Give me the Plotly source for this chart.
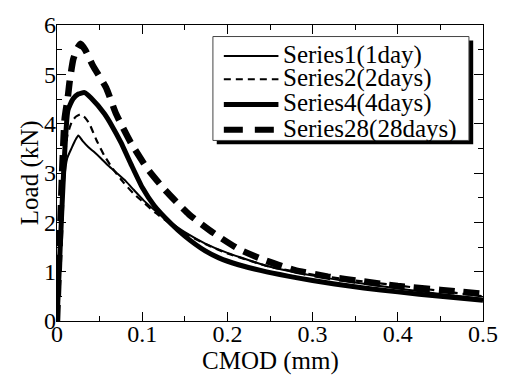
import plotly.graph_objects as go

# ---- data ----
x_s1 = [0, 0.004, 0.008, 0.012, 0.017, 0.021, 0.025, 0.03, 0.037, 0.044, 0.052, 0.06, 0.07, 0.081, 0.09,
        0.102, 0.115, 0.13, 0.15, 0.174, 0.2, 0.25, 0.3, 0.35, 0.4, 0.45, 0.5]
y_s1 = [0, 1.5, 2.8, 3.3, 3.5, 3.65, 3.76, 3.65, 3.52, 3.42, 3.29, 3.15, 3.0, 2.83, 2.66,
        2.44, 2.24, 2.04, 1.8, 1.57, 1.38, 1.1, 0.92, 0.78, 0.66, 0.55, 0.45]

x_s2 = [0, 0.004, 0.008, 0.012, 0.017, 0.022, 0.0276, 0.033, 0.038, 0.046, 0.0556, 0.0653, 0.077, 0.09,
        0.102, 0.115, 0.13, 0.15, 0.174, 0.2, 0.25, 0.3, 0.35, 0.4, 0.45, 0.5]
y_s2 = [0, 1.55, 3.0, 3.75, 4.02, 4.14, 4.19, 4.12, 4.0, 3.68, 3.35, 3.09, 2.83, 2.58,
        2.4, 2.2, 2.01, 1.78, 1.56, 1.37, 1.1, 0.94, 0.82, 0.72, 0.61, 0.5]

x_s4 = [0, 0.004, 0.008, 0.0128, 0.0187, 0.025, 0.0323, 0.04, 0.0557, 0.065, 0.075, 0.0868, 0.1003, 0.114,
        0.1334, 0.15, 0.174, 0.19, 0.213, 0.24, 0.271, 0.3, 0.326, 0.36, 0.4, 0.45, 0.5]
y_s4 = [0, 1.6, 3.1, 4.27, 4.5, 4.6, 4.63, 4.52, 4.2, 3.94, 3.62, 3.18, 2.7, 2.34,
        1.98, 1.72, 1.42, 1.28, 1.14, 1.02, 0.91, 0.82, 0.75, 0.67, 0.59, 0.5, 0.42]

x_s28 = [0, 0.003, 0.006, 0.009, 0.0128, 0.0148, 0.019, 0.023, 0.0275, 0.033, 0.042, 0.0576, 0.0693,
         0.0868, 0.106, 0.1276, 0.155, 0.184, 0.213, 0.244, 0.279, 0.318, 0.36, 0.4, 0.45, 0.5]
y_s28 = [0, 1.5, 3.0, 4.1, 4.55, 4.85, 5.3, 5.5, 5.62, 5.5, 5.18, 4.73, 4.2,
         3.61, 3.09, 2.64, 2.16, 1.78, 1.46, 1.23, 1.03, 0.9, 0.8, 0.71, 0.63, 0.55]

names = ["Series1(1day)", "Series2(2days)", "Series4(4days)", "Series28(28days)"]

x_ticks = [0, 0.1, 0.2, 0.3, 0.4, 0.5]
x_labels = ["0", "0.1", "0.2", "0.3", "0.4", "0.5"]
y_ticks = [0, 1, 2, 3, 4, 5, 6]
y_labels = ["0", "1", "2", "3", "4", "5", "6"]

FONT = "Liberation Serif, Times New Roman, serif"

styles = [
    dict(width=2, dash="solid"),
    dict(width=2.2, dash="7px,5px"),
    dict(width=5, dash="solid"),
    dict(width=6.5, dash="16px,9px"),
]

fig = go.Figure()
for xs, ys, nm, st in zip([x_s1, x_s2, x_s4, x_s28], [y_s1, y_s2, y_s4, y_s28], names, styles):
    fig.add_trace(go.Scatter(x=xs, y=ys, mode="lines", name=nm, showlegend=False,
                             line=dict(color="black", width=st["width"], dash=st["dash"],
                                       shape="spline", smoothing=0.5)))

axis_common = dict(showline=True, linecolor="black", linewidth=1.2, mirror="allticks",
                   ticks="inside", tickcolor="black", tickwidth=1.2, showgrid=False,
                   zeroline=False, tickfont=dict(family=FONT, size=24, color="black"))

fig.update_xaxes(range=[0, 0.5], tickvals=x_ticks, ticktext=x_labels, ticklen=9,
                 ticklabelstandoff=-9,
                 minor=dict(ticks="inside", dtick=0.05, ticklen=5, tickcolor="black", tickwidth=1.2),
                 **axis_common)
fig.update_yaxes(range=[0, 6], tickvals=y_ticks, ticktext=y_labels, ticklen=9,
                 ticklabelstandoff=-5,
                 minor=dict(ticks="inside", dtick=0.5, ticklen=5, tickcolor="black", tickwidth=1.2),
                 **axis_common)

# ---- custom legend (box with drop shadow) ----
shapes = [
    dict(type="rect", xref="paper", yref="paper", x0=0.375, x1=0.977, y0=0.597, y1=0.948,
         fillcolor="black", line=dict(width=0), layer="above"),
    dict(type="rect", xref="paper", yref="paper", x0=0.366, x1=0.967, y0=0.610, y1=0.961,
         fillcolor="white", line=dict(color="#444", width=1), layer="above"),
]
row_py = [48, 72, 98, 124]
leg_styles = [
    dict(width=2, dash="solid"),
    dict(width=2, dash="7px,5px"),
    dict(width=5, dash="solid"),
    dict(width=6, dash="19px,12px"),
]
annotations = []
for py, st, nm in zip(row_py, leg_styles, names):
    yp = (321 - py) / 305
    shapes.append(dict(type="line", xref="paper", yref="paper",
                       x0=(225 - 57) / 429, x1=(280 - 57) / 429, y0=yp, y1=yp,
                       line=dict(color="black", width=st["width"], dash=st["dash"]), layer="above"))
    annotations.append(dict(text=nm, xref="paper", yref="paper", x=(283 - 57) / 429, y=yp + 0.004,
                            xanchor="left", yanchor="middle", showarrow=False,
                            font=dict(family=FONT, size=25, color="black")))

annotations.append(dict(text="Load (kN)", xref="paper", yref="paper", x=(30 - 57) / 429, y=0.5,
                        xanchor="center", yanchor="middle", textangle=-90, showarrow=False,
                        font=dict(family=FONT, size=25, color="black")))
annotations.append(dict(text="CMOD (mm)", xref="paper", yref="paper", x=0.5, y=(321 - 362) / 305,
                        xanchor="center", yanchor="middle", showarrow=False,
                        font=dict(family=FONT, size=25, color="black")))

fig.update_layout(width=510, height=380, margin=dict(l=57, r=24, t=16, b=59),
                  plot_bgcolor="white", paper_bgcolor="white", showlegend=False,
                  shapes=shapes, annotations=annotations)

fig.write_html("out.html")
